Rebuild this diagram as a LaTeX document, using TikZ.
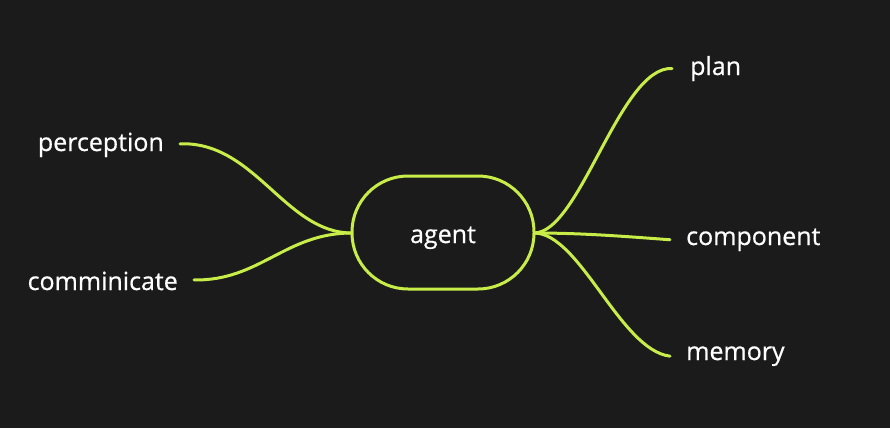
\documentclass[tikz,border=0pt]{standalone}
\usepackage{fontspec}
\setmainfont{Open Sans}
\newfontfamily\lblfont[FakeBold=0.6]{Open Sans}
\definecolor{bg}{HTML}{1B1B1B}
\definecolor{lime}{HTML}{C8EC48}
\begin{document}
\begin{tikzpicture}[x=1pt,y=-1pt,
  lbl/.style={text=white,font=\lblfont\fontsize{25}{30}\selectfont,inner sep=0pt},
  branch/.style={draw=lime,line width=3pt,line cap=round},
  hub/.style={draw=lime,line width=3pt,fill=bg,minimum width=182pt,minimum height=113pt,rounded corners=56pt,text=white,font=\lblfont\fontsize{25}{30}\selectfont,text height=21pt,text depth=0pt}]
\fill[bg] (0,0) rectangle (890,428);
\useasboundingbox (0,0) rectangle (890,428);
\node[lbl,anchor=base east] (perception) at (164,151) {perception};
\node[lbl,anchor=base east] (comm) at (178,290) {comminicate};
\node[lbl,anchor=base west] (plan) at (690,75) {plan};
\node[lbl,anchor=base west] (component) at (686,245) {component};
\node[lbl,anchor=base west] (memory) at (686,360) {memory};
\draw[branch] ([xshift=16pt,yshift=1pt]perception.east) .. controls (255,141) and (285,233) .. (352,233);
\draw[branch] ([xshift=16pt,yshift=1pt]comm.east) .. controls (260,281) and (285,233) .. (352,233);
\draw[branch] (534,233) .. controls (580,233) and (620,66) .. ([xshift=-18pt]plan.west);
\draw[branch] (534,233) .. controls (580,233) and (620,236) .. ([xshift=-16pt]component.west);
\draw[branch] (534,233) .. controls (580,233) and (620,350) .. ([xshift=-16pt]memory.west);
\node[hub] (agent) at (443,232.5) {agent};
\end{tikzpicture}
\end{document}
